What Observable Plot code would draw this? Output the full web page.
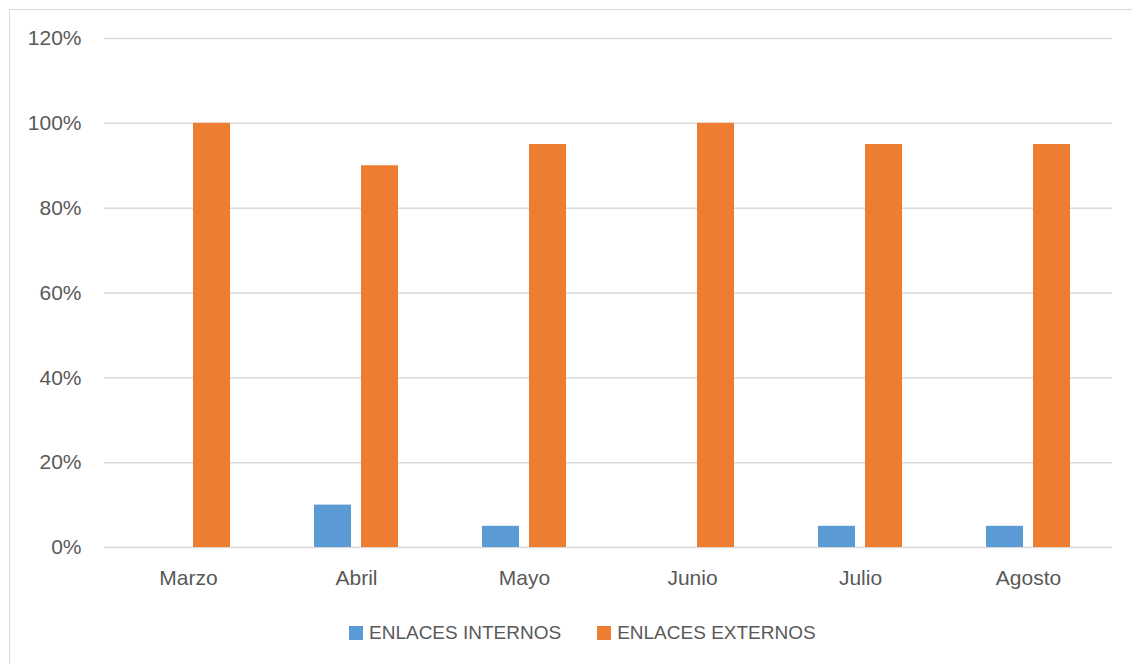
<!DOCTYPE html>
<html>
<head>
<meta charset="utf-8">
<script src="https://cdn.jsdelivr.net/npm/d3@7"></script>
<script src="https://cdn.jsdelivr.net/npm/@observablehq/plot@0.6"></script>
<style>
  html, body { margin: 0; padding: 0; background: #fff; }
  body { position: relative; width: 1132px; height: 664px; overflow: hidden; font-family: "Liberation Sans", Arial, sans-serif; }
  #frame { position: absolute; left: 9px; top: 9px; width: 1140px; height: 670px; border-left: 1.5px solid #d9d9d9; border-top: 1.5px solid #d9d9d9; box-sizing: border-box; }
  #chart { position: absolute; left: 0; top: 0; }
  #legend { position: absolute; left: 349px; top: 622px; display: flex; align-items: center; font-size: 19px; color: #595959; white-space: nowrap; }
  #legend .item { display: flex; align-items: center; margin-right: 36px; }
  #legend .sw { width: 14px; height: 14px; margin-right: 6px; }
</style>
</head>
<body>
<div id="frame"></div>
<div id="chart"></div>
<div id="legend"></div>
<script>
// Monthly share of internal vs external links
const months = ["Marzo", "Abril", "Mayo", "Junio", "Julio", "Agosto"];
const series = ["ENLACES INTERNOS", "ENLACES EXTERNOS"];
const internos = [0, 0.10, 0.05, 0, 0.05, 0.05];
const externos = [1.00, 0.90, 0.95, 1.00, 0.95, 0.95];
const colors = ["#5b9bd5", "#ed7d31"];
const yTicks = [0, 0.2, 0.4, 0.6, 0.8, 1.0, 1.2];

const rows = months.flatMap((m, i) => [
  {month: m, serie: series[0], value: internos[i]},
  {month: m, serie: series[1], value: externos[i]}
]);

const chart = Plot.plot({
  width: 1132,
  height: 600,
  marginLeft: 102,
  marginRight: 19,
  marginTop: 38,
  marginBottom: 53,
  style: {fontSize: "21px", fontFamily: "'Liberation Sans', Arial, sans-serif", color: "#595959", background: "transparent"},
  fx: {domain: months, padding: 0, label: null, axis: "bottom", tickSize: 0, tickPadding: 23},
  x: {domain: series, paddingInner: 0.208, paddingOuter: 0.86, axis: null},
  y: {domain: [0, 1.2], ticks: yTicks, tickFormat: d3.format(".0%"), tickSize: 0, tickPadding: 23, label: null},
  color: {domain: series, range: colors},
  marks: [
    Plot.gridY(yTicks, {stroke: "#d9d9d9", strokeOpacity: 1, strokeWidth: 1.5}),
    Plot.barY(rows, {fx: "month", x: "serie", y: "value", fill: "serie"})
  ]
});
document.getElementById("chart").append(chart);

// Legend below the plot
const legend = document.getElementById("legend");
series.forEach((s, i) => {
  const item = document.createElement("div");
  item.className = "item";
  const sw = document.createElement("span");
  sw.className = "sw";
  sw.style.background = colors[i];
  const label = document.createElement("span");
  label.textContent = s;
  item.append(sw, label);
  legend.append(item);
});
</script>
</body>
</html>
